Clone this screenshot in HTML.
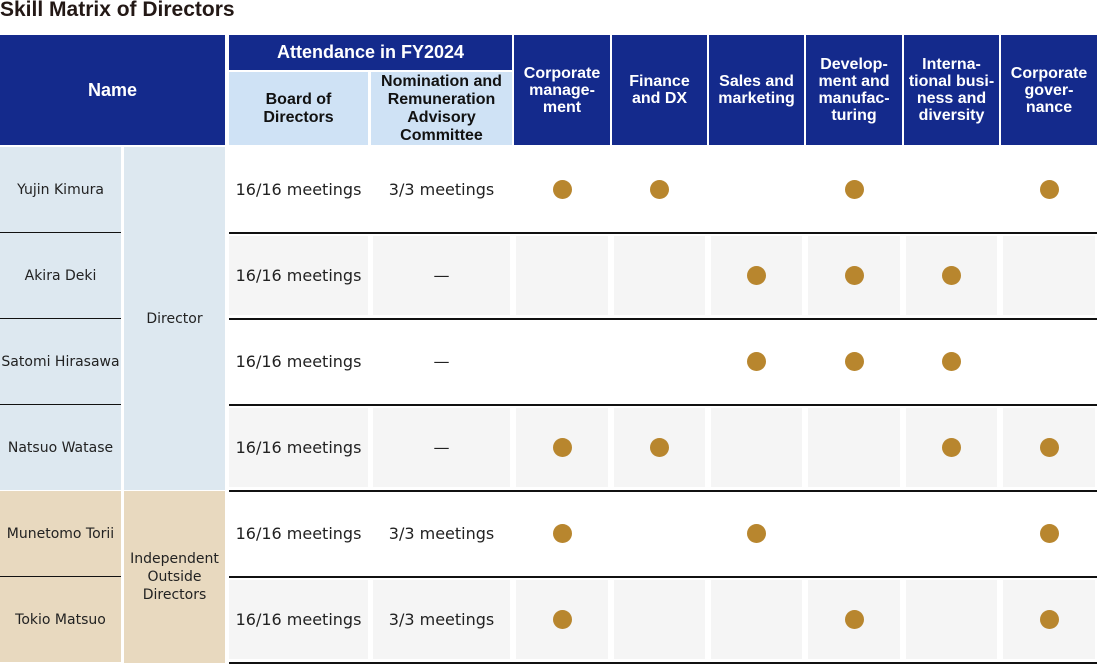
<!DOCTYPE html>
<html><head><meta charset="utf-8">
<style>
body{margin:0;width:1097px;height:664px;background:#fff;position:relative;overflow:hidden;font-family:"Liberation Sans","DejaVu Sans",sans-serif;}
.a{position:absolute;box-sizing:border-box;display:flex;align-items:center;justify-content:center;text-align:center;}
.h{background:#142a8c;color:#fff;font-weight:bold;font-size:16px;line-height:17px;}
.s{background:#cfe2f5;color:#111;font-weight:bold;font-size:16px;line-height:18px;}
.t{font-family:"DejaVu Sans",sans-serif;font-size:16px;color:#222;white-space:nowrap;}
.n{font-family:"DejaVu Sans",sans-serif;font-size:14px;color:#222;white-space:nowrap;}
.line{position:absolute;height:1.5px;background:#111;}
.dot{position:absolute;width:19px;height:19px;border-radius:50%;background:#b8862e;}
</style></head><body>
<div class="a" style="left:0;top:-3px;height:26px;justify-content:flex-start;font-size:21px;font-weight:bold;color:#231815;">Skill Matrix of Directors</div>
<div class="a h" style="left:0;top:35px;width:225px;height:110px;font-size:18px;">Name</div>
<div class="a h" style="left:229px;top:35px;width:283px;height:35px;font-size:18px;">Attendance in FY2024</div>
<div class="a s" style="left:229px;top:72px;width:139px;height:73px;">Board of<br>Directors</div>
<div class="a s" style="left:371px;top:72px;width:141px;height:73px;">Nomination and<br>Remuneration<br>Advisory<br>Committee</div>
<script>
const skills=["Corporate<br>manage-<br>ment","Finance<br>and DX","Sales and<br>marketing","Develop-<br>ment and<br>manufac-<br>turing","Interna-<br>tional busi-<br>ness and<br>diversity","Corporate<br>gover-<br>nance"];
const names=["Yujin Kimura","Akira Deki","Satomi Hirasawa","Natsuo Watase","Munetomo Torii","Tokio Matsuo"];
const board=["16/16 meetings","16/16 meetings","16/16 meetings","16/16 meetings","16/16 meetings","16/16 meetings"];
const nrac=["3/3 meetings","—","—","—","3/3 meetings","3/3 meetings"];
const matrix=[[1,1,0,1,0,1],[0,0,1,1,1,0],[0,0,1,1,1,0],[1,1,0,0,1,1],[1,0,1,0,0,1],[1,0,0,1,0,1]];
const colX=[514,612,709,806,904,1001],colW=[96,95,95,96,95,96];
const rowY=[147,233,319,405,491,577],rowH=85;
const root=document.body;
function el(cls,l,t,w,h,html,bg){const d=document.createElement('div');d.className=cls;d.style.left=l+'px';d.style.top=t+'px';if(w)d.style.width=w+'px';if(h)d.style.height=h+'px';if(bg)d.style.background=bg;if(html!=null)d.innerHTML=html;root.appendChild(d);return d;}
skills.forEach((s,i)=>{const d=el('a h',colX[i],35,colW[i],110,s);

});
const c1=el('a n',124,147,101,343,'Director','#dde8f0');


const c2=el('a n',124,491,101,172,'Independent<br>Outside<br>Directors','#e8d9bf');
c2.style.lineHeight='18px';


names.forEach((nm,r)=>{
 const y=rowY[r],stripe=r%2===1;
 const nc=el('a n',0,y,121,rowH,nm,r<4?'#dde8f0':'#e8d9bf');
 
 
 const cells=[[229,139],[371,141]].concat(colX.map((x,i)=>[x,colW[i]]));
 cells.forEach(([x,w],ci)=>{
  let txt=ci===0?board[r]:ci===1?nrac[r]:'';
  const c=el('a t',x+2,y+3,w-4,rowH-6,txt,stripe?'#f5f5f5':'#fff');
  if(ci===0){c.style.left=x+'px';c.style.width=w+'px';}
  
  
  if(ci>=2&&matrix[r][ci-2]){const dt=el('dot',x+w/2-9.5,y+rowH/2-10);
   
   }
 });
 const ln=el('line',229,y+rowH,868,null);
 if(r!==3&&r!==5){const l2=el('line',0,y+rowH,121,null);}
});
</script>
</body></html>
